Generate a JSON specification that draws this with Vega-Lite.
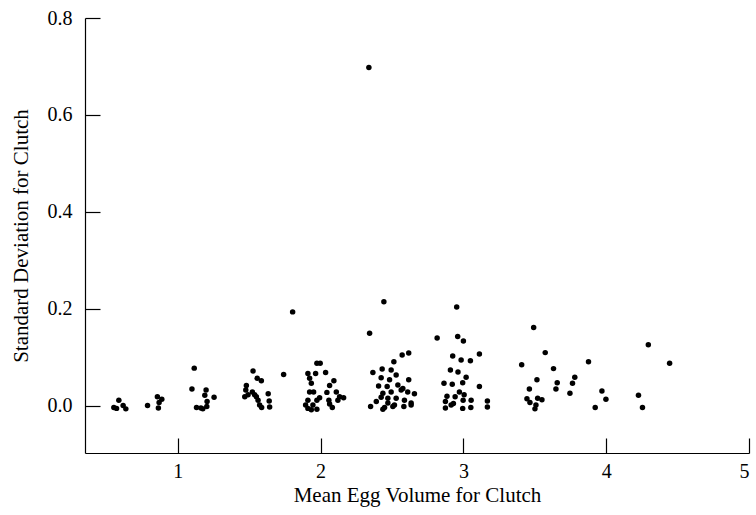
{
  "$schema": "https://vega.github.io/schema/vega-lite/v6.json",
  "width": 664,
  "height": 435,
  "autosize": "none",
  "padding": {"left": 85, "top": 18, "right": 7, "bottom": 62},
  "background": "white",
  "config": {
    "view": {"stroke": null},
    "font": "Liberation Serif",
    "axis": {
      "grid": false,
      "domainColor": "black",
      "domainWidth": 1.2,
      "tickColor": "black",
      "tickWidth": 1.2,
      "tickSize": -15,
      "labelFont": "Liberation Serif",
      "labelFontSize": 20,
      "labelColor": "black",
      "titleFont": "Liberation Serif",
      "titleFontSize": 21,
      "titleFontWeight": "normal",
      "titleColor": "black"
    }
  },
  "data": {
    "values": [
      {"vol": 0.552, "sd": -0.003}, {"vol": 0.587, "sd": 0.012}, {"vol": 0.571, "sd": -0.005},
      {"vol": 0.617, "sd": 0.001}, {"vol": 0.636, "sd": -0.006},
      {"vol": 0.788, "sd": 0.001}, {"vol": 0.857, "sd": 0.019}, {"vol": 0.888, "sd": 0.014},
      {"vol": 0.869, "sd": 0.007}, {"vol": 0.864, "sd": -0.004},
      {"vol": 1.115, "sd": 0.078}, {"vol": 1.099, "sd": 0.035}, {"vol": 1.198, "sd": 0.033},
      {"vol": 1.189, "sd": 0.022}, {"vol": 1.254, "sd": 0.018}, {"vol": 1.205, "sd": 0.009},
      {"vol": 1.131, "sd": -0.003}, {"vol": 1.162, "sd": -0.004}, {"vol": 1.203, "sd": -0.001},
      {"vol": 1.175, "sd": -0.006},
      {"vol": 1.527, "sd": 0.072}, {"vol": 1.556, "sd": 0.057}, {"vol": 1.585, "sd": 0.052},
      {"vol": 1.48, "sd": 0.042}, {"vol": 1.476, "sd": 0.033}, {"vol": 1.469, "sd": 0.019},
      {"vol": 1.492, "sd": 0.023}, {"vol": 1.522, "sd": 0.029}, {"vol": 1.538, "sd": 0.023},
      {"vol": 1.562, "sd": 0.012}, {"vol": 1.633, "sd": 0.025}, {"vol": 1.64, "sd": 0.01},
      {"vol": 1.643, "sd": -0.002}, {"vol": 1.573, "sd": 0.002}, {"vol": 1.587, "sd": -0.003},
      {"vol": 1.55, "sd": 0.019},
      {"vol": 1.741, "sd": 0.065}, {"vol": 1.804, "sd": 0.194},
      {"vol": 1.974, "sd": 0.088}, {"vol": 1.997, "sd": 0.088}, {"vol": 1.911, "sd": 0.067},
      {"vol": 1.965, "sd": 0.067}, {"vol": 2.035, "sd": 0.069}, {"vol": 1.923, "sd": 0.057},
      {"vol": 1.935, "sd": 0.047}, {"vol": 2.093, "sd": 0.052}, {"vol": 2.063, "sd": 0.042},
      {"vol": 1.923, "sd": 0.029}, {"vol": 1.951, "sd": 0.029}, {"vol": 2.11, "sd": 0.029},
      {"vol": 2.044, "sd": 0.028}, {"vol": 2.133, "sd": 0.019}, {"vol": 2.161, "sd": 0.017},
      {"vol": 1.993, "sd": 0.017}, {"vol": 1.911, "sd": 0.012}, {"vol": 1.974, "sd": 0.012},
      {"vol": 2.058, "sd": 0.012}, {"vol": 2.121, "sd": 0.012}, {"vol": 1.895, "sd": 0.002},
      {"vol": 1.946, "sd": 0.002}, {"vol": 2.082, "sd": -0.003}, {"vol": 1.911, "sd": -0.005},
      {"vol": 1.935, "sd": -0.008}, {"vol": 1.974, "sd": -0.007}, {"vol": 2.063, "sd": 0.004},
      {"vol": 2.338, "sd": 0.698}, {"vol": 2.343, "sd": 0.15}, {"vol": 2.443, "sd": 0.215},
      {"vol": 2.571, "sd": 0.105}, {"vol": 2.617, "sd": 0.109}, {"vol": 2.513, "sd": 0.091},
      {"vol": 2.366, "sd": 0.069}, {"vol": 2.431, "sd": 0.076}, {"vol": 2.494, "sd": 0.074},
      {"vol": 2.529, "sd": 0.064}, {"vol": 2.424, "sd": 0.058}, {"vol": 2.483, "sd": 0.054},
      {"vol": 2.617, "sd": 0.054}, {"vol": 2.406, "sd": 0.041}, {"vol": 2.466, "sd": 0.04},
      {"vol": 2.541, "sd": 0.043}, {"vol": 2.576, "sd": 0.036}, {"vol": 2.436, "sd": 0.026},
      {"vol": 2.494, "sd": 0.029}, {"vol": 2.564, "sd": 0.033}, {"vol": 2.61, "sd": 0.029},
      {"vol": 2.424, "sd": 0.018}, {"vol": 2.471, "sd": 0.016}, {"vol": 2.529, "sd": 0.016},
      {"vol": 2.587, "sd": 0.012}, {"vol": 2.657, "sd": 0.025}, {"vol": 2.634, "sd": 0.006},
      {"vol": 2.471, "sd": 0.006}, {"vol": 2.517, "sd": 0.002}, {"vol": 2.39, "sd": 0.009},
      {"vol": 2.35, "sd": -0.001}, {"vol": 2.448, "sd": -0.003}, {"vol": 2.583, "sd": -0.001},
      {"vol": 2.506, "sd": -0.001}, {"vol": 2.436, "sd": -0.007}, {"vol": 2.634, "sd": 0.002},
      {"vol": 2.953, "sd": 0.204}, {"vol": 2.816, "sd": 0.14}, {"vol": 2.96, "sd": 0.143},
      {"vol": 3.0, "sd": 0.134}, {"vol": 2.925, "sd": 0.103}, {"vol": 2.984, "sd": 0.095},
      {"vol": 3.049, "sd": 0.093}, {"vol": 3.112, "sd": 0.107}, {"vol": 2.909, "sd": 0.074},
      {"vol": 2.962, "sd": 0.07}, {"vol": 3.019, "sd": 0.059}, {"vol": 2.995, "sd": 0.048},
      {"vol": 2.864, "sd": 0.047}, {"vol": 2.922, "sd": 0.045}, {"vol": 3.112, "sd": 0.04},
      {"vol": 2.972, "sd": 0.029}, {"vol": 2.885, "sd": 0.02}, {"vol": 2.942, "sd": 0.019},
      {"vol": 3.005, "sd": 0.023}, {"vol": 3.054, "sd": 0.012}, {"vol": 2.998, "sd": 0.012},
      {"vol": 2.874, "sd": 0.009}, {"vol": 2.93, "sd": 0.005}, {"vol": 3.168, "sd": 0.01},
      {"vol": 3.168, "sd": -0.002}, {"vol": 2.874, "sd": -0.004}, {"vol": 2.995, "sd": -0.005},
      {"vol": 3.052, "sd": -0.003}, {"vol": 2.914, "sd": 0.002},
      {"vol": 3.492, "sd": 0.162}, {"vol": 3.573, "sd": 0.11}, {"vol": 3.408, "sd": 0.085},
      {"vol": 3.631, "sd": 0.077}, {"vol": 3.515, "sd": 0.054}, {"vol": 3.657, "sd": 0.048},
      {"vol": 3.78, "sd": 0.059}, {"vol": 3.764, "sd": 0.047}, {"vol": 3.462, "sd": 0.035},
      {"vol": 3.648, "sd": 0.035}, {"vol": 3.746, "sd": 0.026}, {"vol": 3.445, "sd": 0.015},
      {"vol": 3.52, "sd": 0.016}, {"vol": 3.55, "sd": 0.013}, {"vol": 3.466, "sd": 0.007},
      {"vol": 3.508, "sd": 0.002}, {"vol": 3.501, "sd": -0.006},
      {"vol": 3.876, "sd": 0.091}, {"vol": 3.97, "sd": 0.031}, {"vol": 3.998, "sd": 0.014},
      {"vol": 3.923, "sd": -0.003}, {"vol": 4.295, "sd": 0.126}, {"vol": 4.444, "sd": 0.088},
      {"vol": 4.226, "sd": 0.022}, {"vol": 4.254, "sd": -0.003}
    ]
  },
  "mark": {"type": "circle", "color": "black", "opacity": 1, "size": 30},
  "encoding": {
    "x": {
      "field": "vol",
      "type": "quantitative",
      "title": "Mean Egg Volume for Clutch",
      "scale": {"domain": [0.35, 5.0], "nice": false, "zero": false},
      "axis": {"values": [1, 2, 3, 4, 5], "format": "d", "labelPadding": 23, "titlePadding": 3}
    },
    "y": {
      "field": "sd",
      "type": "quantitative",
      "title": "Standard Deviation for Clutch",
      "scale": {"domain": [-0.097, 0.8], "nice": false, "zero": false},
      "axis": {"values": [0, 0.2, 0.4, 0.6, 0.8], "format": ".1f", "labelPadding": 28, "titlePadding": 16}
    }
  }
}
